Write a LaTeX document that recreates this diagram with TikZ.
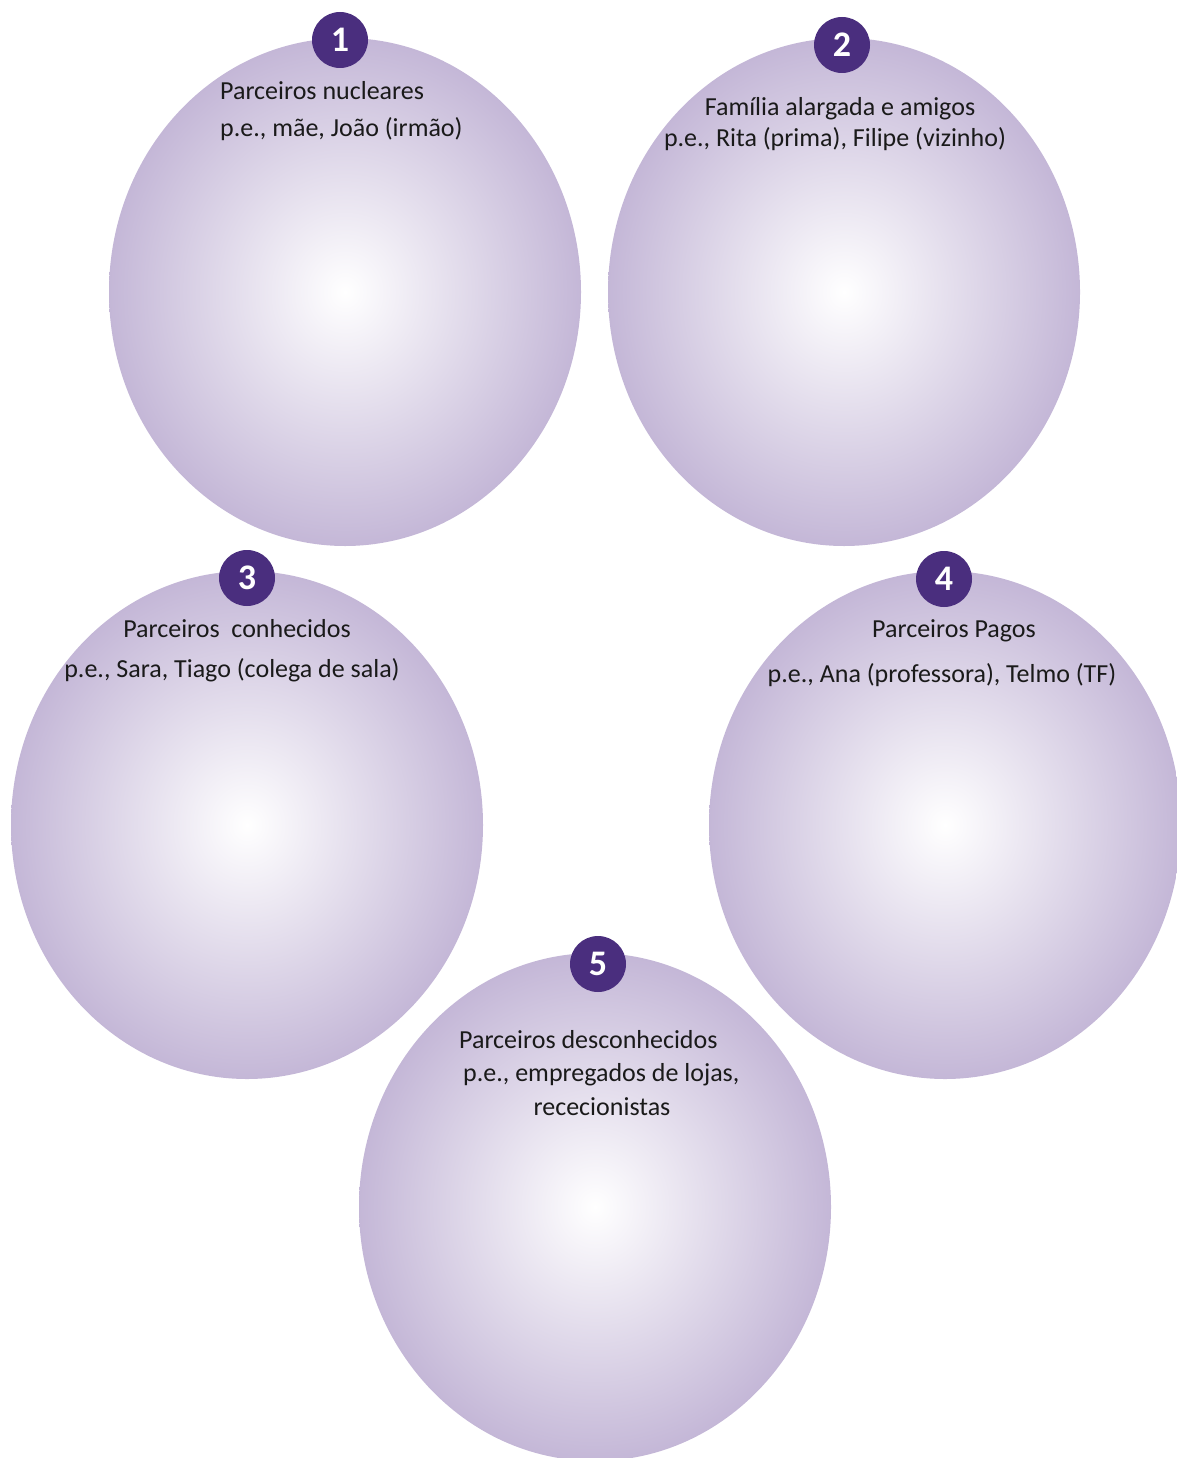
\documentclass[tikz,border=0pt]{standalone}
\usepackage{fontspec}
\setmainfont{Carlito}
\usetikzlibrary{shapes.geometric}

\definecolor{lilac}{RGB}{196,183,215}
\definecolor{badgepurple}{RGB}{74,46,126}
\definecolor{inkgrey}{RGB}{26,26,26}

\tikzset{
  bubble/.style={ellipse, inner sep=0pt, minimum width=472pt, minimum height=508pt,
    shading=radial, inner color=white, outer color=lilac},
  badge/.style={circle, fill=badgepurple, inner sep=0pt, minimum size=56pt,
    text=white, font=\fontsize{36}{36}\selectfont\bfseries},
  label/.style={inner sep=0pt, text=inkgrey, font=\fontsize{26}{26}\selectfont},
}

\begin{document}
\begin{tikzpicture}[x=1pt, y=-1pt]
    \useasboundingbox (0,0) rectangle (1177,1458);
    %% Bubbles
    \node[bubble] (n1) at (345,292) {};
    \node[bubble] (n2) at (844,292) {};
    \node[bubble] (n3) at (247,825) {};
    \node[bubble] (n4) at (945,825) {};
    \node[bubble] (n5) at (595,1207) {};
    %% Number badges
    \node[badge] (b1) at (340,40) {1};
    \node[badge] (b2) at (842,45) {2};
    \node[badge] (b3) at (247,578) {3};
    \node[badge] (b4) at (944,579) {4};
    \node[badge] (b5) at (598,964) {5};
    %% Texts
    \node[label, anchor=base west] (t1a) at (220,100) {Parceiros nucleares};
    \node[label, anchor=base west] (t1b) at (220,137) {p.e., mãe, João (irmão)};
    \node[label, anchor=base] (t2a) at (840,116) {Família alargada e amigos};
    \node[label, anchor=base] (t2b) at (835,147) {p.e., Rita (prima), Filipe (vizinho)};
    \node[label, anchor=base] (t3a) at (237,637) {Parceiros\ \ conhecidos};
    \node[label, anchor=base] (t3b) at (232,677) {p.e., Sara, Tiago (colega de sala)};
    \node[label, anchor=base] (t4a) at (954,637) {Parceiros Pagos};
    \node[label, anchor=base] (t4b) at (942,682) {p.e., Ana (professora), Telmo (TF)};
    \node[label, anchor=base west] (t5a) at (459,1048) {Parceiros desconhecidos};
    \node[label, anchor=base west] (t5b) at (463,1081) {p.e., empregados de lojas,};
    \node[label, anchor=base] (t5c) at (602,1115) {rececionistas};
\end{tikzpicture}
\end{document}
